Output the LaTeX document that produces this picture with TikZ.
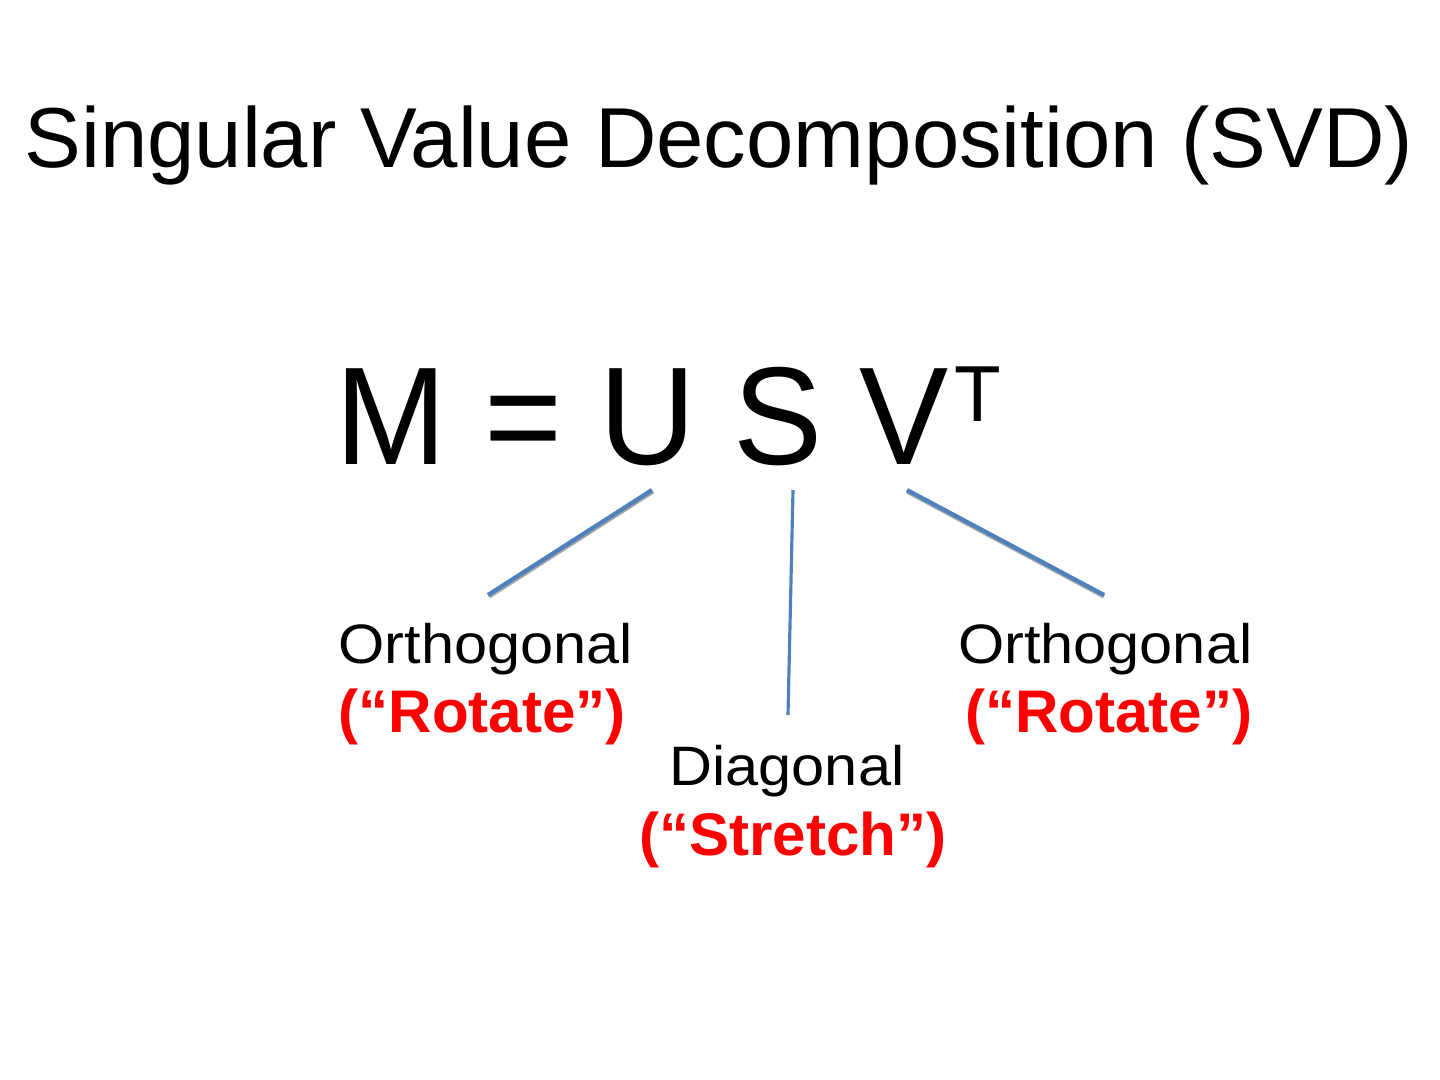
\documentclass[tikz,border=0pt]{standalone}
\usepackage{fontspec}
\setmainfont{Liberation Sans}
\newfontfamily\labelfont[FakeStretch=1.07]{Liberation Sans}
\newfontfamily\eqfont[FakeStretch=0.96]{Liberation Sans}
\definecolor{connblue}{HTML}{4F81BD}
\definecolor{labelred}{HTML}{FF0000}
\begin{document}
\begin{tikzpicture}[x=0.01cm,y=-0.01cm,
  titletext/.style={inner sep=0pt,font=\fontsize{24.2}{28}\selectfont},
  eqtext/.style={inner sep=0pt,font=\eqfont\fontsize{39.6}{46}\selectfont},
  plainlabel/.style={inner sep=0pt,font=\labelfont\fontsize{15.8}{19}\selectfont},
  redlabel/.style={inner sep=0pt,text=labelred,font=\bfseries\fontsize{17.1}{20}\selectfont},
  conn/.style={draw=connblue,line width=1.2pt},
  connshadow/.style={draw=black!35,line width=1.2pt}
]
\useasboundingbox (0,0) rectangle (1440,1080);
\fill[white] (0,0) rectangle (1440,1080);

\node[titletext,anchor=base] (title) at (719,168) {Singular Value Decomposition (SVD)};

\node[eqtext,anchor=base west] (eq) at (335,465) {M = U S V\hspace{0.06cm}\raisebox{0.43cm}{\fontsize{22.6}{26}\selectfont T}};

\node[plainlabel,anchor=base west] (orthL) at (338,663) {Orthogonal};
\node[redlabel,anchor=base west] (rotL) at (338,732) {(“Rotate”)};
\node[plainlabel,anchor=base east] (orthR) at (1253,663) {Orthogonal};
\node[redlabel,anchor=base east] (rotR) at (1253,732) {(“Rotate”)};
\node[plainlabel,anchor=base] (diag) at (787,785) {Diagonal};
\node[redlabel,anchor=base] (stretch) at (793,855) {(“Stretch”)};

\coordinate (uTop) at (652,490);
\coordinate (uBot) at (488,595);
\coordinate (sTop) at (793,490);
\coordinate (sBot) at (788,715);
\coordinate (vTop) at (907,490);
\coordinate (vBot) at (1104,595);

\draw[connshadow] ([shift={(1,1.5)}]uTop) -- ([shift={(1,1.5)}]uBot);
\draw[connshadow] ([shift={(0,1.5)}]vTop) -- ([shift={(0,1.5)}]vBot);
\draw[conn] (uTop) -- (uBot);
\draw[conn,line width=0.9pt] (sTop) -- (sBot);
\draw[conn] (vTop) -- (vBot);
\end{tikzpicture}
\end{document}
